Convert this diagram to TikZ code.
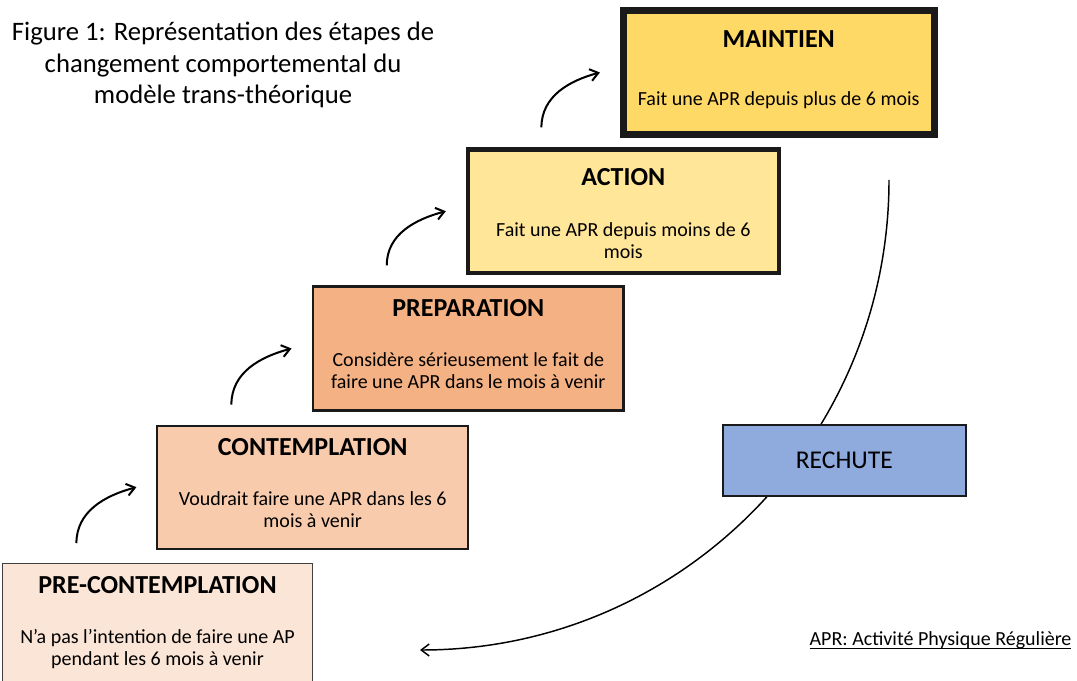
\documentclass[tikz,border=0pt]{standalone}
\usepackage{fontspec}
\setmainfont{Carlito}
\usepackage{xcolor}
\usepackage{tikz}
\usetikzlibrary{
		arrows.meta,
		calc,
		positioning
	}
\definecolor{orange-100}{HTML}{FBE5D6}
\definecolor{orange-300}{HTML}{F8CBAD}
\definecolor{orange-500}{HTML}{F4B183}
\definecolor{yellow-300}{HTML}{FFE699}
\definecolor{yellow-500}{HTML}{FFD966}
\definecolor{blue-400}{HTML}{8FAADC}
\definecolor{grayscale-100}{HTML}{1A1A1A}
\newcommand{\stagehead}[1]{\rule{0pt}{20pt}{\fontsize{19.5}{16.5}\selectfont\bfseries #1}}
\newcommand{\stagedepth}[1]{\rule[-#1]{0pt}{#1}}
\tikzset{%
		every text node part/.style = {
			align = center
		},
		stage/.style = {
			draw = grayscale-100,
			rectangle,
			minimum width = 233pt,
			minimum height = 92.5pt,
			inner sep = 0pt,
			font = \fontsize{15}{16.5}\selectfont
		},
		relapse/.style = {
			draw = grayscale-100,
			fill = blue-400,
			rectangle,
			line width = 1.5pt,
			minimum width = 182pt,
			minimum height = 52.8pt,
			font = \fontsize{19.2}{22}\selectfont
		},
		steparrow/.style = {
			line width = 1.5pt,
			-{Straight Barb[length=6pt, width=9pt]}
		},
		relapsearrow/.style = {
			line width = 1.1pt,
			-{Straight Barb[length=6pt, width=9pt]}
		}
	}

\begin{document}
\begin{tikzpicture}[x=0.75pt, y=0.75pt]
		\useasboundingbox (0, 0) rectangle (1077, 681);
		\clip (0, 0) rectangle (1077, 681);

		\node [font=\fontsize{20}{23.6}\selectfont] (title) at (223, 616)
			{Figure 1: Représentation des étapes de\\changement comportemental du\\modèle trans-théorique};

		% Relapse arc, drawn first so that the box covers it
		\coordinate (relapse start) at (889, 501);
		\coordinate (relapse end) at (420, 31);
		\draw [relapsearrow]
			(relapse start) .. controls +(0, -259.6) and +(259.6, 0) .. (relapse end);

		\node [stage, fill=orange-100, draw=black!75, line width=0.9pt] (pre) at (157.5, 55.5)
			{\stagehead{PRE-CONTEMPLATION}\\[21pt]N’a pas l’intention de faire une AP\\pendant les 6 mois à venir\stagedepth{13.6pt}};
		\node [stage, fill=orange-300, line width=1.5pt] (cont) at (312.7, 193.8)
			{\stagehead{CONTEMPLATION}\\[21pt]Voudrait faire une APR dans les 6\\mois à venir\stagedepth{13.6pt}};
		\node [stage, fill=orange-500, line width=2.2pt] (prep) at (468.3, 332.5)
			{\stagehead{PREPARATION}\\[21pt]Considère sérieusement le fait de\\faire une APR dans le mois à venir\stagedepth{13.6pt}};
		\node [stage, fill=yellow-300, line width=3.2pt] (act) at (623.3, 469.8)
			{\stagehead{ACTION}\\[21.8pt]Fait une APR depuis moins de 6\\mois\stagedepth{4.3pt}};
		\node [stage, fill=yellow-500, line width=5.2pt] (maint) at (778.7, 608.5)
			{\stagehead{MAINTIEN}\\[26.5pt]Fait une APR depuis plus de 6 mois\stagedepth{14.2pt}};

		\node [relapse] (rechute) at (844.3, 220.5) {RECHUTE};

		\foreach \a/\b in {pre/cont, cont/prep, prep/act, act/maint} {
			\draw [steparrow]
				($(\a.north west)!0.24!(\a.north east) + (0, 20)$)
				to [out=90, in=195] ([xshift=-15pt]\b.west);
		}

		\node [font=\fontsize{15}{18}\selectfont, anchor=base] (legend) at (940.5, 35)
			{\underline{\smash{APR: Activité Physique Régulière}}};
	\end{tikzpicture}
\end{document}
